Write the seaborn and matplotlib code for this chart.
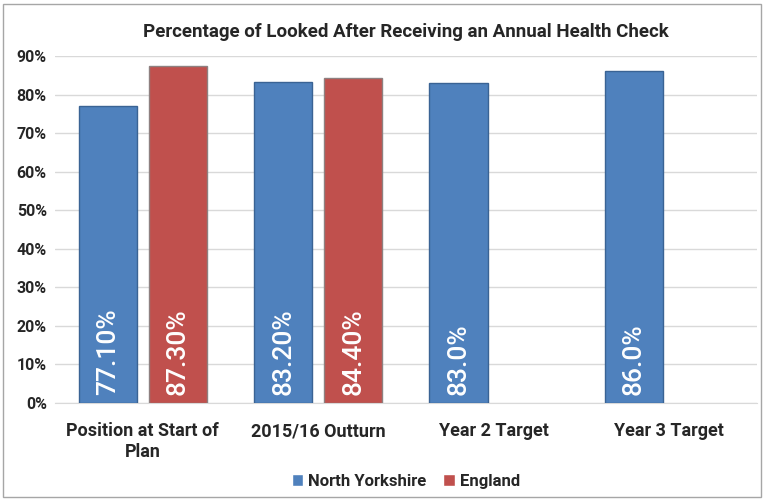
import pandas as pd
import matplotlib.pyplot as plt
import seaborn as sns
from matplotlib.patches import Rectangle

# Chart data
categories = ['Position at Start of\nPlan', '2015/16 Outturn', 'Year 2 Target', 'Year 3 Target']
north_yorkshire = [0.771, 0.832, 0.830, 0.860]
england = [0.873, 0.844, None, None]
ny_labels = ['77.10%', '83.20%', '83.0%', '86.0%']
eng_labels = ['87.30%', '84.40%', '', '']
series = ['North Yorkshire', 'England']
colors = ['#4F81BD', '#C0504D']
edge_colors = ['#3A6394', '#8E8080']
yticks = [0, 0.1, 0.2, 0.3, 0.4, 0.5, 0.6, 0.7, 0.8, 0.9]

sns.set_style("white")
plt.rcParams['font.family'] = ['Roboto', 'DejaVu Sans']

df = pd.DataFrame({
    'category': categories * 2,
    'series': [series[0]] * 4 + [series[1]] * 4,
    'value': north_yorkshire + england,
})

fig = plt.figure(figsize=(7.66, 5.0), dpi=100)
ax = fig.add_axes([0.072, 0.194, 0.916, 0.694])

sns.barplot(data=df, x='category', y='value', hue='series', hue_order=series,
            palette=colors, saturation=1, width=0.8, gap=0.17, ax=ax, legend=True,
            linewidth=1, zorder=3)

# edge colours and value labels (placed at the base of each bar)
for cont, ec, labels in zip(ax.containers, edge_colors, [ny_labels, eng_labels]):
    for patch, lab in zip(cont, labels):
        if patch is None:
            continue
        patch.set_edgecolor(ec)
        if lab:
            ax.text(patch.get_x() + patch.get_width() / 2, 0.02, lab,
                    rotation=90, ha='center', va='bottom', color='white',
                    fontsize=19, fontweight='medium', zorder=4)

ax.set_ylim(0, 0.9)
ax.set_yticks(yticks)
ax.set_yticklabels([f'{int(round(t * 100))}%' for t in yticks], fontsize=11.5, fontweight='bold')
ax.yaxis.grid(True, color='#D9D9D9', linewidth=1, zorder=0)
ax.set_xticks(range(len(categories)))
ax.set_xticklabels(categories, fontsize=13, fontweight='bold')
ax.tick_params(axis='both', length=0, pad=6)
ax.tick_params(axis='x', pad=14)
ax.set_xlabel('')
ax.set_ylabel('')
for side in ['left', 'right', 'top']:
    ax.spines[side].set_visible(False)
ax.spines['bottom'].set_color('#D9D9D9')

ax.set_title('Percentage of Looked After Receiving an Annual Health Check',
             fontsize=13.5, fontweight='bold', pad=14)

handles, labels = ax.get_legend_handles_labels()
ax.legend(handles, labels, loc='center', bbox_to_anchor=(0.5, -0.225), ncol=2,
          frameon=False, prop={'size': 12, 'weight': 'bold'},
          handlelength=0.7, handleheight=0.7, handletextpad=0.3, columnspacing=1.0)

fig.patches.append(Rectangle((0.004, 0.006), 0.99, 0.986, transform=fig.transFigure,
                             fill=False, edgecolor='#A6A6A6', linewidth=1))

fig.savefig('out.png', dpi=100)
